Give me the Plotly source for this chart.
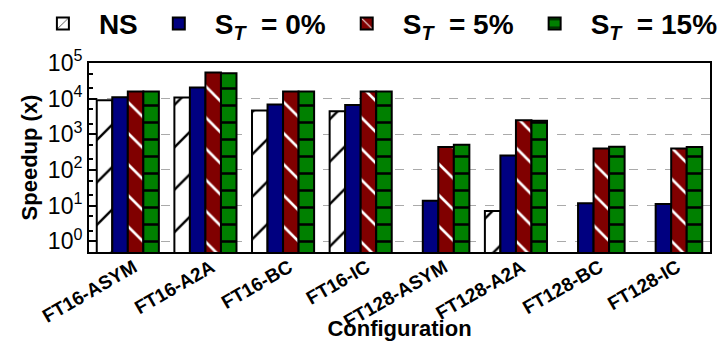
import plotly.graph_objects as go

categories = ["FT16-ASYM", "FT16-A2A", "FT16-BC", "FT16-IC",
              "FT128-ASYM", "FT128-A2A", "FT128-BC", "FT128-IC"]
ns = [9000, 10700, 4650, 4400, None, 7.1, None, None]
st0 = [11000, 20500, 6900, 6600, 13.8, 256, 11.7, 11.2]
st5 = [15800, 54000, 15800, 15800, 440, 2500, 400, 400]
st15 = [15800, 52000, 15800, 15800, 510, 2400, 450, 440]

names = ["NS",
         "S<sub><i>T</i></sub>\u00a0 = 0%",
         "S<sub><i>T</i></sub>\u00a0 = 5%",
         "S<sub><i>T</i></sub>\u00a0 = 15%"]
ytickvals = [1, 10, 100, 1000, 10000, 100000]
yticktext = ["10<sup>0</sup>", "10<sup>1</sup>", "10<sup>2</sup>", "10<sup>3</sup>",
             "10<sup>4</sup>", "10<sup>5</sup>"]

FONT = "Liberation Sans, Arial, sans-serif"
line = dict(color="black", width=2)

fig = go.Figure()
fig.add_trace(go.Bar(x=categories, y=ns, name=names[0],
                     marker=dict(color="white", line=line,
                                 pattern=dict(shape="/", fgcolor="black", bgcolor="white",
                                              size=30, solidity=0.08, fillmode="replace"))))
fig.add_trace(go.Bar(x=categories, y=st0, name=names[1],
                     marker=dict(color="#000080", line=line)))
fig.add_trace(go.Bar(x=categories, y=st5, name=names[2],
                     marker=dict(color="#800000", line=line,
                                 pattern=dict(shape="\\", fgcolor="white", bgcolor="#800000",
                                              size=22, solidity=0.12, fillmode="replace"))))
fig.add_trace(go.Bar(x=categories, y=st15, name=names[3],
                     marker=dict(color="#008000", line=line,
                                 pattern=dict(shape="-", fgcolor="black", bgcolor="#008000",
                                              size=17, solidity=0.15, fillmode="replace"))))

fig.update_layout(
    width=723, height=341,
    margin=dict(l=89, r=13, t=63, b=89, autoexpand=False),
    paper_bgcolor="white", plot_bgcolor="white",
    barmode="group", bargap=0.2, bargroupgap=0,
    font=dict(family=FONT, color="black"),
    legend=dict(orientation="h", x=-0.1, xanchor="left", y=1.34, yanchor="top",
                font=dict(family=FONT, size=28, color="black", weight="bold"),
                itemwidth=62, bgcolor="rgba(0,0,0,0)"),
    showlegend=True,
)
fig.update_xaxes(
    automargin=False,
    showline=True, linecolor="black", linewidth=2, mirror=True,
    tickangle=-30, tickfont=dict(family=FONT, size=19, weight="bold"),
    ticklabelstandoff=-5, ticklabelshift=6,
    ticks="", title=dict(text="Configuration", font=dict(family=FONT, size=22, weight="bold"), standoff=4),
)
fig.update_yaxes(
    automargin=False,
    type="log", range=[-0.3, 5],
    showline=True, linecolor="black", linewidth=2, mirror=True,
    tickvals=ytickvals, ticktext=yticktext,
    ticks="inside", ticklen=8, tickwidth=2, tickcolor="black",
    tickfont=dict(family=FONT, size=23),
    showgrid=True, gridcolor="#aaaaaa", griddash="dash", gridwidth=1,
    minor=dict(ticks="inside", ticklen=4, tickcolor="black", showgrid=False),
    title=dict(text="Speedup (x)", font=dict(family=FONT, size=22, weight="bold"), standoff=4),
)

fig.write_html("out.html")
